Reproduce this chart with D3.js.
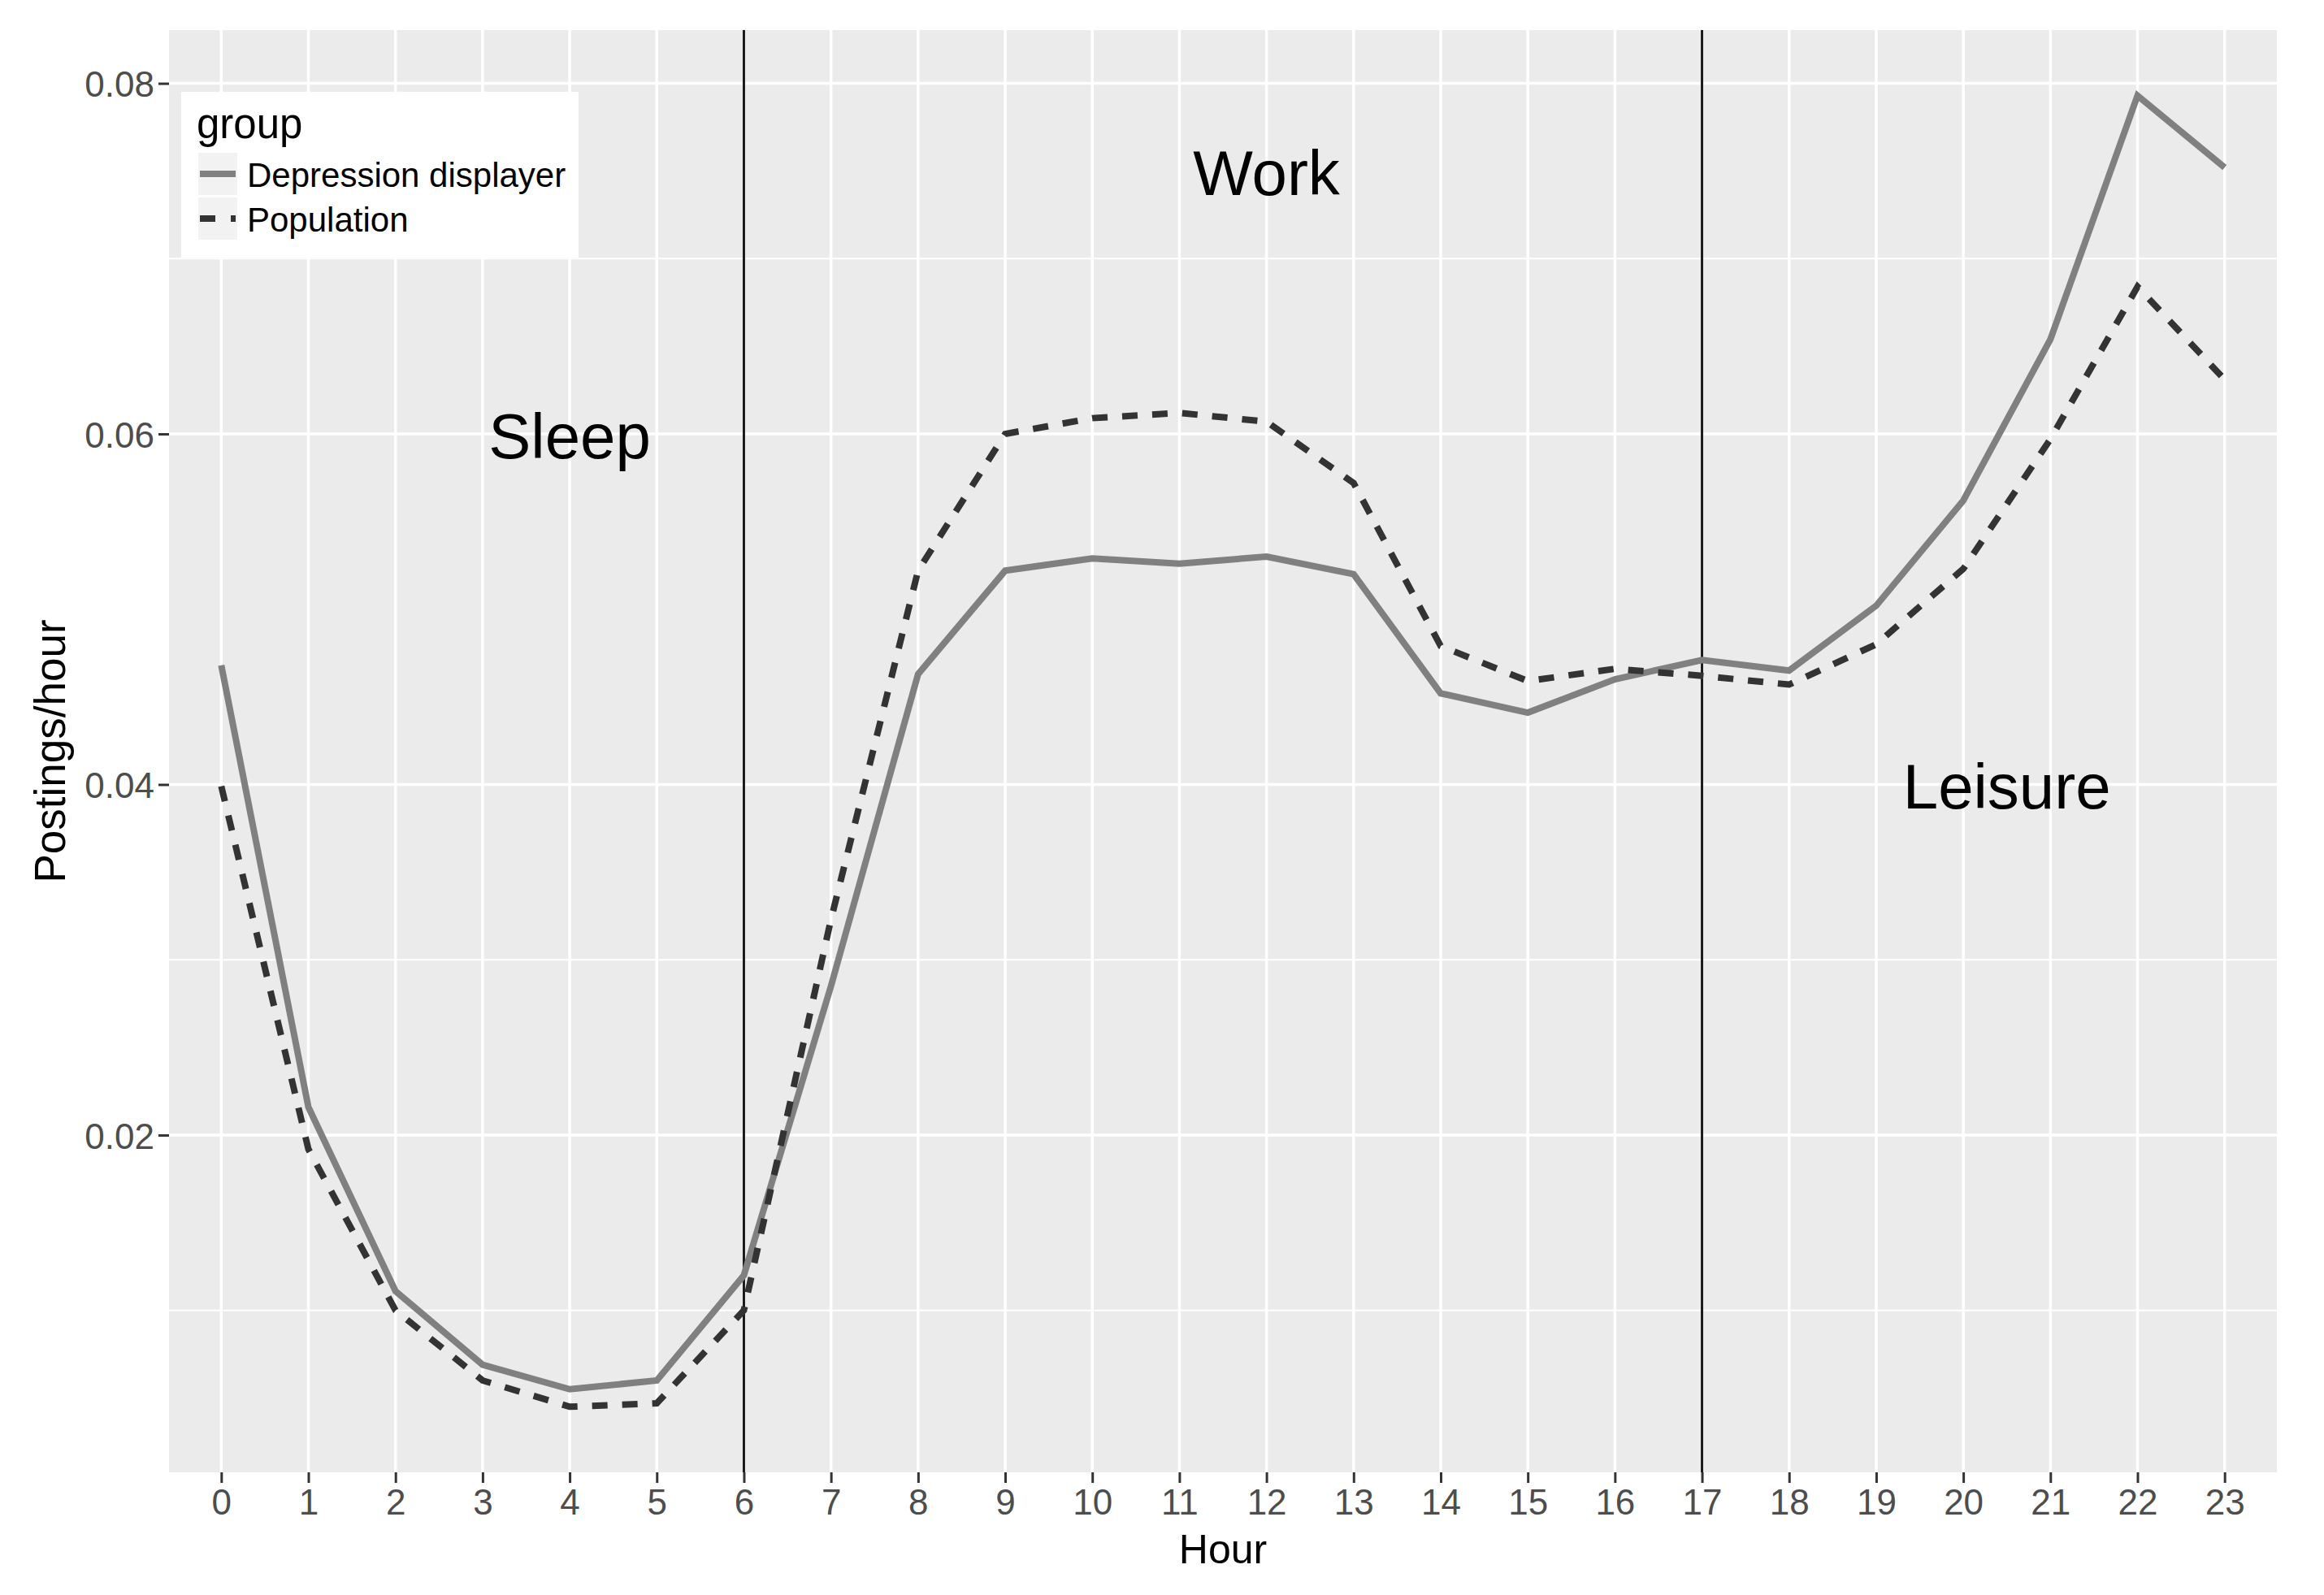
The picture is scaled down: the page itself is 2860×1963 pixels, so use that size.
<!DOCTYPE html>
<html>
<head>
<meta charset="utf-8">
<script src="https://cdn.jsdelivr.net/npm/d3@7"></script>
<style>
  body { margin: 0; background: #ffffff; }
  text { font-family: "Liberation Sans", Arial, sans-serif; }
</style>
</head>
<body>
<div id="vis1"></div>
<script>
// data
const HOURS = [0, 1, 2, 3, 4, 5, 6, 7, 8, 9, 10, 11, 12, 13, 14, 15, 16, 17, 18, 19, 20, 21, 22, 23];
const DEPRESSION = [0.0468, 0.0216, 0.0111, 0.0069, 0.0055, 0.0060, 0.0120, 0.0285, 0.0463, 0.0522,
                    0.0529, 0.0526, 0.0530, 0.0520, 0.0452, 0.0441, 0.0460, 0.0471, 0.0465, 0.0502,
                    0.0562, 0.0654, 0.0793, 0.0752];
const POPULATION = [0.0399, 0.0192, 0.0100, 0.0060, 0.0045, 0.0047, 0.0100, 0.0323, 0.0522, 0.0600,
                    0.0609, 0.0612, 0.0607, 0.0572, 0.0479, 0.0459, 0.0466, 0.0462, 0.0457, 0.0480,
                    0.0523, 0.0597, 0.0684, 0.0631];
const SERIES_NAMES = ["Depression displayer", "Population"];
const Y_TICKS = [0.02, 0.04, 0.06, 0.08];
const Y_MINOR = [0.01, 0.03, 0.07];
const PHASE_LINES = [6, 17];
const PHASE_LABELS = ["Sleep", "Work", "Leisure"];
const PHASE_X = [4, 12, 20.5];
const PHASE_Y = [0.06, 0.075, 0.04];

const FRAME_WIDTH = 2860;
const FRAME_HEIGHT = 1963;
const PANEL = {left: 208, right: 2802, top: 37, bottom: 1812};

const FRAME1 = d3.select("#vis1")
                  .append("svg")
                    .attr("width", FRAME_WIDTH)
                    .attr("height", FRAME_HEIGHT);

// ggplot-like 5% expansion on y, discrete x with 0.6 padding
const Y_MIN = d3.min(DEPRESSION.concat(POPULATION));
const Y_MAX = d3.max(DEPRESSION.concat(POPULATION));
const Y_PAD = (Y_MAX - Y_MIN) * 0.05;

const X_SCALE = d3.scalePoint()
                  .domain(HOURS)
                  .range([PANEL.left, PANEL.right])
                  .padding(0.6);
const Y_SCALE = d3.scaleLinear()
                  .domain([Y_MIN - Y_PAD, Y_MAX + Y_PAD])
                  .range([PANEL.bottom, PANEL.top]);

// fractional hour positions for the annotations
const STEP = X_SCALE.step();
const xAt = (h) => X_SCALE(0) + h * STEP;

// panel background
FRAME1.append("rect")
  .attr("x", PANEL.left)
  .attr("y", PANEL.top)
  .attr("width", PANEL.right - PANEL.left)
  .attr("height", PANEL.bottom - PANEL.top)
  .attr("fill", "#ebebeb");

// grid lines
FRAME1.selectAll(".minor")
  .data(Y_MINOR)
  .enter()
  .append("line")
    .attr("x1", PANEL.left).attr("x2", PANEL.right)
    .attr("y1", d => Y_SCALE(d)).attr("y2", d => Y_SCALE(d))
    .attr("stroke", "#ffffff").attr("stroke-width", 2);

FRAME1.selectAll(".major")
  .data(Y_TICKS)
  .enter()
  .append("line")
    .attr("x1", PANEL.left).attr("x2", PANEL.right)
    .attr("y1", d => Y_SCALE(d)).attr("y2", d => Y_SCALE(d))
    .attr("stroke", "#ffffff").attr("stroke-width", 3.5);

FRAME1.selectAll(".vgrid")
  .data(HOURS)
  .enter()
  .append("line")
    .attr("x1", d => X_SCALE(d)).attr("x2", d => X_SCALE(d))
    .attr("y1", PANEL.top).attr("y2", PANEL.bottom)
    .attr("stroke", "#ffffff").attr("stroke-width", 3.5);

// axes
const X_AXIS = FRAME1.append("g")
  .attr("transform", "translate(0," + PANEL.bottom + ")")
  .call(d3.axisBottom(X_SCALE).tickSize(13).tickPadding(8));

const Y_AXIS = FRAME1.append("g")
  .attr("transform", "translate(" + PANEL.left + ",0)")
  .call(d3.axisLeft(Y_SCALE).tickValues(Y_TICKS).tickFormat(d3.format(".2f")).tickSize(13).tickPadding(5));

[X_AXIS, Y_AXIS].forEach(ax => {
  ax.select(".domain").remove();
  ax.selectAll(".tick line").attr("stroke", "#333333").attr("stroke-width", 3);
  ax.selectAll(".tick text")
    .attr("fill", "#4d4d4d")
    .attr("font-size", 44)
    .style("font-family", "'Liberation Sans', Arial, sans-serif");
});
Y_AXIS.selectAll(".tick text").attr("dy", "0.37em");

// axis titles
FRAME1.append("text")
  .attr("x", (PANEL.left + PANEL.right) / 2)
  .attr("y", 1924)
  .attr("text-anchor", "middle")
  .attr("font-size", 50)
  .attr("fill", "#000000")
  .text("Hour");

FRAME1.append("text")
  .attr("transform", "translate(80," + ((PANEL.top + PANEL.bottom) / 2) + ") rotate(-90)")
  .attr("text-anchor", "middle")
  .attr("font-size", 53)
  .attr("fill", "#000000")
  .text("Postings/hour");

// phase lines
FRAME1.selectAll(".phase")
  .data(PHASE_LINES)
  .enter()
  .append("line")
    .attr("x1", d => X_SCALE(d)).attr("x2", d => X_SCALE(d))
    .attr("y1", PANEL.top).attr("y2", PANEL.bottom)
    .attr("stroke", "#1a1a1a").attr("stroke-width", 3);

// the two series
const LINE = d3.line()
  .x((d, i) => X_SCALE(HOURS[i]))
  .y(d => Y_SCALE(d));

FRAME1.append("path")
  .attr("d", LINE(DEPRESSION))
  .attr("fill", "none")
  .attr("stroke", "#808080")
  .attr("stroke-width", 8);

FRAME1.append("path")
  .attr("d", LINE(POPULATION))
  .attr("fill", "none")
  .attr("stroke", "#333333")
  .attr("stroke-width", 8)
  .attr("stroke-dasharray", "19,18");

// phase labels
FRAME1.selectAll(".plabel")
  .data(PHASE_LABELS)
  .enter()
  .append("text")
    .attr("x", (d, i) => xAt(PHASE_X[i]))
    .attr("y", (d, i) => Y_SCALE(PHASE_Y[i]))
    .attr("dy", "0.38em")
    .attr("text-anchor", "middle")
    .attr("font-size", 78)
    .attr("fill", "#000000")
    .text(d => d);

// legend
const LEGEND = FRAME1.append("g");
LEGEND.append("rect")
  .attr("x", 223).attr("y", 113)
  .attr("width", 489).attr("height", 204)
  .attr("fill", "#ffffff");
LEGEND.append("text")
  .attr("x", 242).attr("y", 170)
  .attr("font-size", 51)
  .text("group");

const KEY_Y = [188, 243];
SERIES_NAMES.forEach((name, i) => {
  LEGEND.append("rect")
    .attr("x", 244).attr("y", KEY_Y[i])
    .attr("width", 48).attr("height", 52)
    .attr("fill", "#f2f2f2");
  LEGEND.append("line")
    .attr("x1", 246).attr("x2", 290)
    .attr("y1", KEY_Y[i] + 26).attr("y2", KEY_Y[i] + 26)
    .attr("stroke", i === 0 ? "#808080" : "#333333")
    .attr("stroke-width", 8)
    .attr("stroke-dasharray", i === 0 ? null : "19,19");
  LEGEND.append("text")
    .attr("x", 304).attr("y", KEY_Y[i] + 42)
    .attr("font-size", 42)
    .text(name);
});
</script>
</body>
</html>
